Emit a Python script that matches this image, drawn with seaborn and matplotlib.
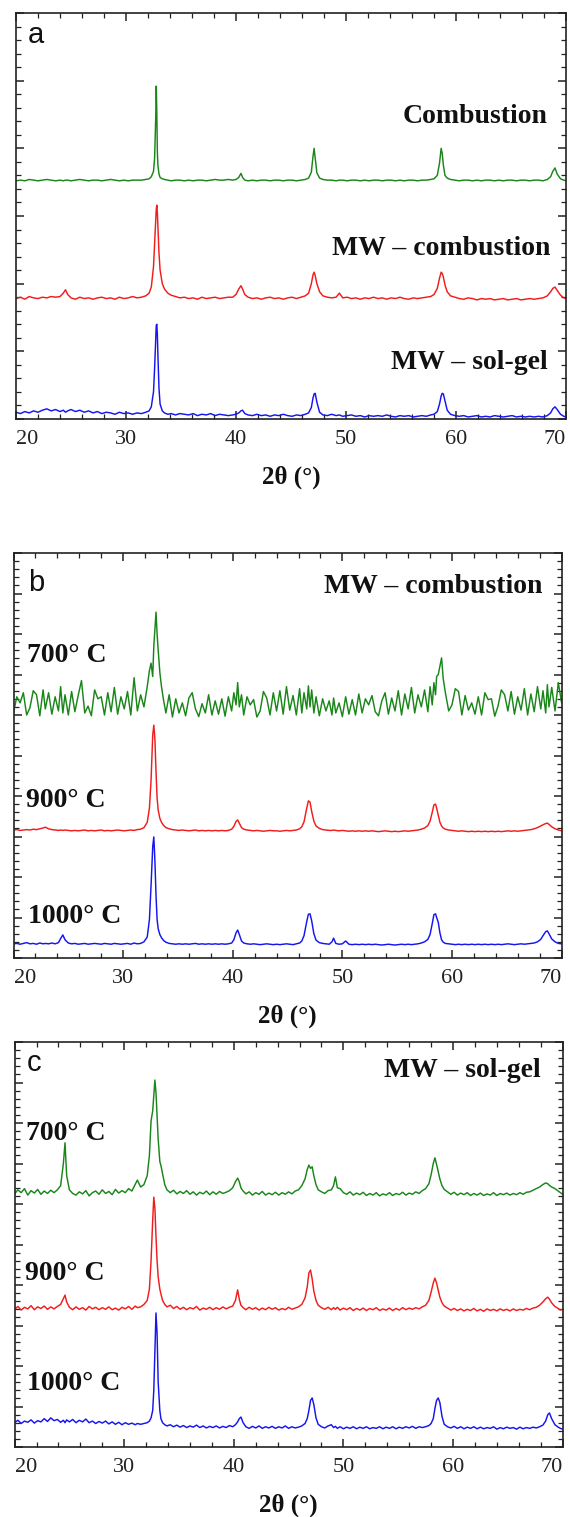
import numpy as np
import pandas as pd
import matplotlib
matplotlib.use('Agg')
import matplotlib.pyplot as plt
from matplotlib.ticker import MultipleLocator
import seaborn as sns

# -----------------------------
# DATA (arbitrary intensity units)
# -----------------------------

x_ticks = [20, 30, 40, 50, 60, 70]
x_tick_labels = ['20', '30', '40', '50', '60', '70']

# panel a : 2theta grid and three patterns
two_theta_a = [
    20.0, 20.4, 20.8, 21.2, 21.6, 22.0, 22.4, 22.8, 23.2, 23.6,
    24.0, 24.3, 24.5, 24.7, 25.0, 25.4, 25.8, 26.2, 26.6, 27.0,
    27.4, 27.8, 28.2, 28.6, 29.0, 29.4, 29.8, 30.2, 30.6, 31.0,
    31.4, 31.8, 32.1, 32.3, 32.5, 32.6, 32.7, 32.75, 32.8, 32.85,
    32.9, 33.0, 33.1, 33.3, 33.5, 33.8, 34.1, 34.5, 34.9, 35.3,
    35.7, 36.1, 36.5, 36.9, 37.3, 37.7, 38.1, 38.5, 38.9, 39.3,
    39.7, 40.0, 40.25, 40.45, 40.6, 40.8, 41.1, 41.5, 41.9, 42.3,
    42.7, 43.1, 43.5, 43.9, 44.3, 44.7, 45.1, 45.5, 45.9, 46.3,
    46.6, 46.85, 47.0, 47.1, 47.2, 47.35, 47.6, 47.9, 48.3, 48.7,
    49.1, 49.4, 49.7, 50.1, 50.5, 50.9, 51.3, 51.7, 52.1, 52.5,
    52.9, 53.3, 53.7, 54.1, 54.5, 54.9, 55.3, 55.7, 56.1, 56.5,
    56.9, 57.3, 57.7, 58.0, 58.3, 58.5, 58.65, 58.75, 58.85, 59.0,
    59.2, 59.5, 59.9, 60.3, 60.7, 61.1, 61.5, 61.9, 62.3, 62.7,
    63.1, 63.5, 63.9, 64.3, 64.7, 65.1, 65.5, 65.9, 66.3, 66.7,
    67.1, 67.5, 67.9, 68.3, 68.6, 68.8, 69.0, 69.2, 69.5, 69.8,
    70.0]

combustion_a = [
    3.52, 3.53, 3.52, 3.54, 3.53, 3.52, 3.53, 3.54, 3.53, 3.52,
    3.53, 3.52, 3.53, 3.53, 3.52, 3.53, 3.54, 3.53, 3.52, 3.53,
    3.53, 3.52, 3.53, 3.54, 3.53, 3.52, 3.53, 3.52, 3.53, 3.53,
    3.53, 3.54, 3.55, 3.58, 3.66, 3.85, 4.45, 4.92, 4.55, 3.95,
    3.75, 3.62, 3.57, 3.55, 3.54, 3.53, 3.52, 3.53, 3.53, 3.52,
    3.53, 3.52, 3.53, 3.53, 3.52, 3.53, 3.54, 3.53, 3.53, 3.54,
    3.53, 3.54, 3.57, 3.63, 3.57, 3.53, 3.52, 3.53, 3.52, 3.53,
    3.53, 3.52, 3.53, 3.53, 3.52, 3.53, 3.53, 3.52, 3.53, 3.54,
    3.56, 3.65, 3.88, 4.00, 3.85, 3.64, 3.56, 3.54, 3.53, 3.53,
    3.52, 3.53, 3.53, 3.52, 3.53, 3.53, 3.52, 3.53, 3.52, 3.53,
    3.53, 3.52, 3.53, 3.53, 3.52, 3.53, 3.52, 3.53, 3.53, 3.52,
    3.53, 3.53, 3.54, 3.55, 3.60, 3.78, 4.00, 3.92, 3.75, 3.60,
    3.56, 3.54, 3.53, 3.52, 3.53, 3.53, 3.52, 3.53, 3.52, 3.53,
    3.53, 3.52, 3.53, 3.52, 3.53, 3.53, 3.52, 3.53, 3.53, 3.52,
    3.53, 3.53, 3.52, 3.54, 3.58, 3.66, 3.71, 3.62, 3.55, 3.53,
    3.52]

mw_combustion_a = [
    1.78, 1.80, 1.77, 1.81, 1.79, 1.78, 1.80, 1.79, 1.81, 1.80,
    1.81, 1.86, 1.91, 1.84, 1.79, 1.77, 1.80, 1.78, 1.79, 1.77,
    1.79, 1.80, 1.78, 1.79, 1.77, 1.80, 1.78, 1.79, 1.81, 1.79,
    1.80, 1.82, 1.86, 1.95, 2.25, 2.60, 2.95, 3.10, 3.16, 3.05,
    2.85, 2.45, 2.20, 2.00, 1.92, 1.86, 1.83, 1.81, 1.79, 1.80,
    1.78, 1.79, 1.77, 1.80, 1.78, 1.79, 1.80, 1.78, 1.79, 1.80,
    1.80, 1.84, 1.92, 1.97, 1.92, 1.84, 1.80, 1.78, 1.79, 1.77,
    1.79, 1.80, 1.78, 1.79, 1.77, 1.79, 1.80, 1.78, 1.80, 1.82,
    1.86, 2.00, 2.13, 2.17, 2.12, 2.00, 1.88, 1.82, 1.80, 1.79,
    1.80, 1.86, 1.79, 1.80, 1.78, 1.79, 1.77, 1.79, 1.78, 1.80,
    1.78, 1.79, 1.77, 1.79, 1.78, 1.80, 1.78, 1.77, 1.79, 1.78,
    1.79, 1.80, 1.81, 1.84, 1.93, 2.08, 2.17, 2.15, 2.10, 1.98,
    1.88, 1.82, 1.80, 1.78, 1.77, 1.79, 1.78, 1.76, 1.78, 1.77,
    1.78, 1.76, 1.77, 1.78, 1.76, 1.77, 1.78, 1.76, 1.77, 1.78,
    1.77, 1.78, 1.79, 1.82, 1.88, 1.93, 1.95, 1.90, 1.83, 1.79,
    1.78]

mw_solgel_a = [
    0.10, 0.08, 0.11, 0.09, 0.12, 0.10, 0.13, 0.15, 0.12, 0.14,
    0.11, 0.13, 0.10, 0.12, 0.14, 0.11, 0.13, 0.10, 0.12, 0.09,
    0.11, 0.08, 0.10, 0.09, 0.07, 0.10, 0.08, 0.09, 0.07, 0.09,
    0.08, 0.10, 0.12, 0.18, 0.40, 0.75, 1.20, 1.38, 1.40, 1.25,
    0.95, 0.45, 0.22, 0.12, 0.09, 0.07, 0.08, 0.06, 0.08, 0.07,
    0.06, 0.08, 0.05, 0.07, 0.06, 0.08, 0.05, 0.07, 0.06, 0.05,
    0.06, 0.07, 0.09, 0.12, 0.13, 0.08, 0.06, 0.05, 0.07, 0.05,
    0.06, 0.04, 0.06, 0.05, 0.07, 0.05, 0.04, 0.06, 0.05, 0.07,
    0.09, 0.17, 0.31, 0.37, 0.38, 0.25, 0.10, 0.06, 0.05, 0.07,
    0.05, 0.06, 0.04, 0.05, 0.06, 0.04, 0.05, 0.03, 0.05, 0.04,
    0.05, 0.04, 0.06, 0.04, 0.03, 0.05, 0.04, 0.05, 0.03, 0.04,
    0.05, 0.04, 0.06, 0.07, 0.11, 0.22, 0.34, 0.38, 0.37, 0.27,
    0.13, 0.07, 0.05, 0.04, 0.05, 0.03, 0.04, 0.05, 0.03, 0.04,
    0.03, 0.05, 0.04, 0.03, 0.04, 0.05, 0.03, 0.04, 0.03, 0.04,
    0.03, 0.04, 0.03, 0.05, 0.09, 0.15, 0.18, 0.14, 0.07, 0.04,
    0.03]

# panel b : MW - combustion at three temperatures
two_theta_b = [
    20.0, 20.3, 20.6, 20.9, 21.2, 21.5, 21.8, 22.1, 22.4, 22.7,
    22.9, 23.2, 23.5, 23.8, 24.1, 24.3, 24.5, 24.7, 25.0, 25.3,
    25.6, 25.9, 26.2, 26.5, 26.8, 27.1, 27.4, 27.7, 28.0, 28.3,
    28.6, 28.9, 29.2, 29.5, 29.8, 30.1, 30.4, 30.7, 31.0, 31.3,
    31.6, 31.9, 32.2, 32.4, 32.55, 32.7, 32.8, 32.9, 33.0, 33.1,
    33.2, 33.35, 33.5, 33.7, 33.9, 34.2, 34.5, 34.8, 35.1, 35.4,
    35.7, 36.0, 36.3, 36.6, 36.9, 37.2, 37.5, 37.8, 38.1, 38.4,
    38.7, 39.0, 39.3, 39.6, 39.9, 40.1, 40.3, 40.45, 40.6, 40.8,
    41.0, 41.3, 41.6, 41.9, 42.2, 42.5, 42.8, 43.1, 43.4, 43.7,
    44.0, 44.3, 44.6, 44.9, 45.2, 45.5, 45.8, 46.1, 46.3, 46.5,
    46.75, 46.9, 47.05, 47.2, 47.4, 47.6, 47.9, 48.2, 48.5, 48.8,
    49.05, 49.2, 49.4, 49.7, 50.0, 50.3, 50.6, 50.9, 51.2, 51.5,
    51.8, 52.1, 52.4, 52.7, 53.0, 53.3, 53.6, 53.9, 54.2, 54.5,
    54.8, 55.1, 55.4, 55.7, 56.0, 56.3, 56.6, 56.9, 57.2, 57.5,
    57.8, 58.0, 58.2, 58.35, 58.5, 58.6, 58.75, 58.9, 59.05, 59.2,
    59.4, 59.7, 60.0, 60.3, 60.6, 60.9, 61.2, 61.5, 61.8, 62.1,
    62.4, 62.7, 63.0, 63.3, 63.6, 63.9, 64.2, 64.5, 64.8, 65.1,
    65.4, 65.7, 66.0, 66.3, 66.6, 66.9, 67.2, 67.5, 67.8, 68.1,
    68.3, 68.55, 68.7, 68.85, 69.1, 69.4, 69.7, 70.0]

comb_700 = [
    6.05, 6.45, 6.30, 6.55, 6.00, 6.18, 6.60, 6.50, 5.98, 6.62,
    6.15, 6.55, 6.02, 6.45, 6.10, 6.70, 6.05, 6.50, 6.00, 6.58,
    6.08, 6.48, 6.85, 6.05, 6.22, 5.98, 6.62, 6.40, 6.45, 6.00,
    6.55, 6.08, 6.68, 6.02, 6.45, 6.15, 6.58, 6.00, 6.92, 6.10,
    6.50, 6.20, 6.70, 7.10, 7.28, 6.95, 7.70, 8.10, 8.54, 8.00,
    7.60, 7.05, 6.70, 6.35, 6.05, 6.50, 5.95, 6.40, 6.05, 6.30,
    5.98, 6.42, 6.55, 6.15, 5.96, 6.28, 6.05, 6.50, 6.00, 6.35,
    6.02, 6.40, 5.97, 6.45, 6.10, 6.55, 6.25, 6.80, 6.20, 6.50,
    6.00, 6.45, 6.25, 6.38, 5.95, 6.10, 6.58, 6.42, 6.00, 6.55,
    6.10, 6.60, 6.02, 6.70, 6.12, 6.48, 6.00, 6.65, 6.05, 6.55,
    6.15, 6.72, 6.20, 6.62, 6.05, 6.45, 5.98, 6.40, 6.10, 6.35,
    6.00, 6.42, 6.05, 6.30, 5.96, 6.45, 6.02, 6.38, 6.00, 6.52,
    6.05, 6.40, 6.25, 6.48, 6.08, 5.98, 6.35, 6.55, 6.02, 6.42,
    6.10, 6.60, 6.00, 6.52, 6.15, 6.68, 6.05, 6.50, 6.20, 6.62,
    6.08, 6.70, 6.25, 6.80, 6.50, 6.95, 7.00, 7.20, 7.41, 6.90,
    6.55, 6.10, 6.25, 6.65, 6.58, 6.00, 6.48, 6.12, 6.30, 6.02,
    6.45, 6.00, 6.55, 6.38, 6.40, 5.97, 6.22, 6.62, 6.50, 6.10,
    6.58, 6.02, 6.45, 6.12, 6.65, 6.00, 6.52, 6.08, 6.70, 6.15,
    6.60, 6.05, 6.75, 6.20, 6.68, 6.10, 6.80, 6.30]

comb_900 = [
    3.16, 3.17, 3.15, 3.16, 3.17, 3.16, 3.18, 3.17, 3.19, 3.21,
    3.23, 3.19, 3.17, 3.16, 3.15, 3.16, 3.15, 3.16, 3.15, 3.14,
    3.15, 3.14, 3.15, 3.16, 3.14, 3.15, 3.14, 3.15, 3.16, 3.14,
    3.15, 3.14, 3.15, 3.16, 3.15, 3.14, 3.15, 3.16, 3.15, 3.17,
    3.18, 3.22, 3.35, 3.70, 4.40, 5.50, 5.75, 5.40, 4.60, 3.95,
    3.65, 3.45, 3.35, 3.27, 3.22, 3.19, 3.17, 3.16, 3.15, 3.16,
    3.15, 3.14, 3.15, 3.16, 3.14, 3.15, 3.14, 3.15, 3.14, 3.15,
    3.14, 3.15, 3.14, 3.15, 3.18, 3.25, 3.37, 3.41, 3.33, 3.22,
    3.18, 3.16, 3.15, 3.14, 3.15, 3.14, 3.13, 3.14, 3.15, 3.14,
    3.14, 3.13, 3.14, 3.15, 3.14, 3.15, 3.16, 3.19, 3.24, 3.36,
    3.70, 3.88, 3.85, 3.62, 3.38, 3.26, 3.20, 3.17, 3.16, 3.15,
    3.15, 3.16, 3.15, 3.14, 3.15, 3.14, 3.13, 3.14, 3.13, 3.14,
    3.13, 3.14, 3.13, 3.14, 3.13, 3.12, 3.13, 3.14, 3.13, 3.12,
    3.13, 3.12, 3.13, 3.14, 3.13, 3.14, 3.15, 3.16, 3.18, 3.21,
    3.27, 3.38, 3.60, 3.78, 3.80, 3.70, 3.52, 3.35, 3.26, 3.21,
    3.18, 3.16, 3.15, 3.14, 3.13, 3.14, 3.13, 3.12, 3.13, 3.12,
    3.13, 3.12, 3.13, 3.12, 3.13, 3.12, 3.13, 3.12, 3.13, 3.14,
    3.13, 3.14, 3.13, 3.14, 3.15, 3.16, 3.17, 3.19, 3.22, 3.26,
    3.29, 3.32, 3.33, 3.30, 3.24, 3.19, 3.16, 3.14]

comb_1000 = [
    0.35, 0.36, 0.34, 0.36, 0.38, 0.35, 0.36, 0.34, 0.37, 0.35,
    0.36, 0.35, 0.37, 0.35, 0.38, 0.48, 0.57, 0.45, 0.37, 0.35,
    0.36, 0.34, 0.35, 0.36, 0.34, 0.35, 0.36, 0.35, 0.34, 0.36,
    0.35, 0.34, 0.36, 0.35, 0.34, 0.35, 0.36, 0.34, 0.37, 0.35,
    0.36, 0.40, 0.52, 0.95, 1.80, 2.75, 2.99, 2.40, 1.55, 0.95,
    0.72, 0.58, 0.50, 0.43, 0.39, 0.36, 0.35, 0.34, 0.35, 0.34,
    0.35, 0.34, 0.35, 0.36, 0.34, 0.35, 0.34, 0.35, 0.34, 0.35,
    0.34, 0.35, 0.34, 0.35, 0.37, 0.45, 0.62, 0.69, 0.58, 0.42,
    0.37, 0.35, 0.34, 0.35, 0.34, 0.33, 0.34, 0.35, 0.34, 0.33,
    0.34, 0.33, 0.34, 0.35, 0.34, 0.33, 0.35, 0.37, 0.42, 0.55,
    0.90, 1.08, 1.09, 0.92, 0.60, 0.44, 0.38, 0.36, 0.35, 0.34,
    0.40, 0.49, 0.36, 0.34, 0.35, 0.42, 0.34, 0.33, 0.34, 0.33,
    0.34, 0.33, 0.34, 0.33, 0.34, 0.33, 0.32, 0.33, 0.34, 0.33,
    0.32, 0.33, 0.34, 0.33, 0.34, 0.33, 0.34, 0.35, 0.37, 0.40,
    0.46, 0.58, 0.85, 1.07, 1.09, 1.00, 0.88, 0.62, 0.45, 0.39,
    0.36, 0.35, 0.34, 0.33, 0.34, 0.33, 0.34, 0.33, 0.34, 0.33,
    0.34, 0.33, 0.34, 0.33, 0.34, 0.33, 0.34, 0.33, 0.34, 0.35,
    0.34, 0.33, 0.34, 0.35, 0.34, 0.35, 0.36, 0.37, 0.40, 0.46,
    0.55, 0.65, 0.67, 0.60, 0.47, 0.40, 0.36, 0.35]

# panel c : MW - sol-gel at three temperatures
two_theta_c = [
    20.0, 20.3, 20.6, 20.9, 21.2, 21.5, 21.8, 22.1, 22.4, 22.7,
    23.0, 23.3, 23.6, 23.9, 24.2, 24.45, 24.6, 24.75, 25.0, 25.3,
    25.6, 25.9, 26.2, 26.5, 26.8, 27.1, 27.4, 27.7, 28.0, 28.3,
    28.6, 28.9, 29.2, 29.5, 29.8, 30.1, 30.4, 30.7, 31.0, 31.2,
    31.5, 31.8, 32.1, 32.3, 32.45, 32.6, 32.7, 32.8, 32.9, 33.0,
    33.1, 33.25, 33.35, 33.5, 33.7, 33.9, 34.2, 34.5, 34.8, 35.1,
    35.4, 35.7, 36.0, 36.3, 36.6, 36.9, 37.2, 37.5, 37.8, 38.1,
    38.4, 38.7, 39.0, 39.3, 39.6, 39.9, 40.15, 40.35, 40.5, 40.65,
    40.85, 41.1, 41.4, 41.7, 42.0, 42.3, 42.6, 42.9, 43.2, 43.5,
    43.8, 44.1, 44.4, 44.7, 45.0, 45.3, 45.6, 45.9, 46.2, 46.5,
    46.7, 46.85, 47.0, 47.15, 47.3, 47.5, 47.7, 48.0, 48.3, 48.6,
    48.9, 49.1, 49.27, 49.45, 49.7, 50.0, 50.3, 50.6, 50.9, 51.2,
    51.5, 51.8, 52.1, 52.4, 52.7, 53.0, 53.3, 53.6, 53.9, 54.2,
    54.5, 54.8, 55.1, 55.4, 55.7, 56.0, 56.3, 56.6, 56.9, 57.2,
    57.5, 57.8, 58.0, 58.2, 58.35, 58.5, 58.65, 58.8, 59.0, 59.2,
    59.5, 59.8, 60.1, 60.4, 60.7, 61.0, 61.3, 61.6, 61.9, 62.2,
    62.5, 62.8, 63.1, 63.4, 63.7, 64.0, 64.3, 64.6, 64.9, 65.2,
    65.5, 65.8, 66.1, 66.4, 66.7, 67.0, 67.3, 67.6, 67.9, 68.2,
    68.45, 68.65, 68.8, 69.0, 69.3, 69.6, 69.8, 70.0]

solgel_700 = [
    6.25, 6.35, 6.28, 6.38, 6.22, 6.33, 6.27, 6.36, 6.24, 6.32,
    6.26, 6.34, 6.28, 6.35, 6.45, 7.00, 7.51, 6.70, 6.35, 6.26,
    6.22, 6.30, 6.25, 6.33, 6.20, 6.28, 6.32, 6.24, 6.35, 6.26,
    6.31, 6.23, 6.36, 6.27, 6.33, 6.28, 6.38, 6.32, 6.48, 6.59,
    6.42, 6.48, 6.70, 7.20, 8.05, 8.30, 8.70, 9.06, 8.75, 8.20,
    7.60, 7.05, 6.95, 6.75, 6.48, 6.35, 6.28, 6.34, 6.25, 6.31,
    6.26, 6.33, 6.24, 6.30, 6.22, 6.29, 6.25, 6.32, 6.23, 6.30,
    6.24, 6.31, 6.26, 6.29, 6.33, 6.40, 6.55, 6.64, 6.55, 6.40,
    6.32, 6.25, 6.30, 6.22, 6.28, 6.24, 6.31, 6.22, 6.27, 6.23,
    6.29, 6.22, 6.28, 6.24, 6.30, 6.25, 6.32, 6.35, 6.45, 6.62,
    6.85, 6.96, 6.88, 6.92, 6.70, 6.48, 6.35, 6.30, 6.26, 6.33,
    6.35, 6.45, 6.67, 6.40, 6.38, 6.28, 6.24, 6.30, 6.22, 6.27,
    6.23, 6.29, 6.21, 6.26, 6.22, 6.28, 6.20, 6.25, 6.22, 6.28,
    6.21, 6.26, 6.23, 6.29, 6.22, 6.27, 6.24, 6.30, 6.26, 6.33,
    6.38, 6.50, 6.72, 7.00, 7.14, 6.98, 6.80, 6.62, 6.45, 6.36,
    6.30, 6.24, 6.29, 6.22, 6.27, 6.23, 6.28, 6.21, 6.26, 6.22,
    6.27, 6.21, 6.25, 6.22, 6.28, 6.21, 6.26, 6.23, 6.27, 6.22,
    6.26, 6.23, 6.28, 6.24, 6.29, 6.30, 6.34, 6.38, 6.42, 6.48,
    6.52, 6.50, 6.46, 6.42, 6.38, 6.32, 6.28, 6.24]

solgel_900 = [
    3.40, 3.47, 3.38, 3.45, 3.41, 3.49, 3.39, 3.46, 3.42, 3.48,
    3.40, 3.46, 3.41, 3.47, 3.52, 3.66, 3.75, 3.58, 3.45, 3.39,
    3.46, 3.40, 3.44, 3.38, 3.47, 3.41, 3.45, 3.39, 3.44, 3.40,
    3.46, 3.39, 3.43, 3.38, 3.45, 3.41, 3.47, 3.40, 3.48, 3.44,
    3.46, 3.52, 3.62, 3.90, 4.60, 5.60, 6.17, 5.90, 5.20, 4.60,
    4.20, 3.90, 3.78, 3.62, 3.52, 3.46, 3.50, 3.42, 3.47, 3.40,
    3.45, 3.39, 3.44, 3.41, 3.47, 3.38, 3.43, 3.40, 3.45, 3.39,
    3.44, 3.40, 3.46, 3.41, 3.45, 3.48, 3.62, 3.88, 3.65, 3.50,
    3.44, 3.39, 3.45, 3.40, 3.44, 3.38, 3.43, 3.39, 3.45, 3.40,
    3.44, 3.38, 3.42, 3.39, 3.45, 3.40, 3.43, 3.46, 3.52, 3.68,
    3.95, 4.30, 4.37, 4.15, 3.85, 3.62, 3.50, 3.44, 3.40, 3.45,
    3.39, 3.44, 3.40, 3.45, 3.38, 3.43, 3.39, 3.44, 3.37, 3.42,
    3.38, 3.43, 3.37, 3.42, 3.39, 3.44, 3.37, 3.41, 3.38, 3.43,
    3.37, 3.42, 3.38, 3.44, 3.39, 3.43, 3.40, 3.44, 3.41, 3.46,
    3.50, 3.62, 3.82, 4.05, 4.17, 4.05, 3.88, 3.70, 3.56, 3.48,
    3.43, 3.38, 3.42, 3.37, 3.41, 3.36, 3.40, 3.37, 3.42, 3.36,
    3.40, 3.35, 3.41, 3.37, 3.40, 3.36, 3.41, 3.37, 3.40, 3.36,
    3.41, 3.37, 3.40, 3.38, 3.42, 3.39, 3.43, 3.45, 3.50, 3.58,
    3.66, 3.70, 3.65, 3.56, 3.47, 3.42, 3.38, 3.40]

solgel_1000 = [
    0.60, 0.66, 0.58, 0.64, 0.61, 0.67, 0.59, 0.65, 0.62, 0.70,
    0.63, 0.72, 0.65, 0.68, 0.61, 0.66, 0.60, 0.67, 0.62, 0.68,
    0.60, 0.66, 0.62, 0.69, 0.60, 0.64, 0.58, 0.63, 0.59, 0.64,
    0.57, 0.62, 0.56, 0.61, 0.55, 0.60, 0.56, 0.59, 0.55, 0.58,
    0.56, 0.58, 0.60, 0.64, 0.72, 0.90, 1.40, 2.40, 3.31, 2.80,
    1.60, 0.90, 0.70, 0.60, 0.55, 0.52, 0.55, 0.50, 0.54, 0.49,
    0.53, 0.48, 0.52, 0.49, 0.54, 0.48, 0.52, 0.47, 0.51, 0.48,
    0.52, 0.47, 0.51, 0.48, 0.53, 0.50, 0.55, 0.62, 0.70, 0.74,
    0.60, 0.50, 0.46, 0.51, 0.47, 0.52, 0.46, 0.50, 0.47, 0.51,
    0.46, 0.50, 0.47, 0.52, 0.46, 0.50, 0.47, 0.49, 0.52, 0.58,
    0.70, 0.90, 1.15, 1.21, 1.05, 0.72, 0.56, 0.50, 0.47, 0.52,
    0.55, 0.48, 0.51, 0.46, 0.50, 0.45, 0.49, 0.46, 0.50, 0.45,
    0.49, 0.46, 0.50, 0.45, 0.48, 0.46, 0.50, 0.45, 0.49, 0.46,
    0.50, 0.45, 0.49, 0.46, 0.50, 0.47, 0.51, 0.46, 0.50, 0.48,
    0.50, 0.53, 0.58, 0.70, 0.95, 1.15, 1.21, 1.10, 0.75, 0.56,
    0.50, 0.47, 0.51, 0.46, 0.50, 0.45, 0.49, 0.46, 0.50, 0.45,
    0.49, 0.45, 0.48, 0.46, 0.50, 0.44, 0.48, 0.45, 0.49, 0.46,
    0.48, 0.44, 0.49, 0.45, 0.48, 0.46, 0.49, 0.47, 0.50, 0.54,
    0.64, 0.80, 0.84, 0.70, 0.55, 0.49, 0.46, 0.44]

GREEN = '#1a861a'
RED = '#f21c1c'
BLUE = '#1515f0'

# -----------------------------
# FIGURE SETUP
# -----------------------------

sns.set_style('ticks')
plt.rcParams['font.family'] = ['Liberation Serif', 'DejaVu Serif']

W, H = 570, 1517
fig = plt.figure(figsize=(W / 100, H / 100), dpi=100)


def px_axes(left, top, right, bottom):
    # axes rectangle given in pixel coordinates of the reference
    return fig.add_axes([left / W, 1 - bottom / H, (right - left) / W, (bottom - top) / H])


def px_text(x, y, s, ha='left', family='Liberation Serif', size=20, weight='bold'):
    fig.text(x / W, 1 - y / H, s, ha=ha, va='baseline',
             family=family, fontsize=size, weight=weight, color='#111111')


def draw_panel(ax, x, series, ymax, ymin_step):
    frames = []
    for name, values in series:
        assert len(values) == len(x), (name, len(values), len(x))
        frames.append(pd.DataFrame({'two_theta': x, 'intensity': values, 'sample': name}))
    df = pd.concat(frames, ignore_index=True)
    palette = {name: color for (name, _), color in zip(series, [GREEN, RED, BLUE])}
    sns.lineplot(data=df, x='two_theta', y='intensity', hue='sample',
                 palette=palette, estimator=None, legend=False,
                 linewidth=1.05, ax=ax)
    ax.set_xlim(20, 70)
    ax.set_ylim(0, ymax)
    ax.set_xticks(x_ticks)
    ax.set_xticklabels(x_tick_labels)
    ticklabels = ax.get_xticklabels()
    ticklabels[0].set_horizontalalignment('left')
    ticklabels[-1].set_horizontalalignment('right')
    ax.xaxis.set_minor_locator(MultipleLocator(2))
    ax.yaxis.set_major_locator(MultipleLocator(1))
    ax.yaxis.set_minor_locator(MultipleLocator(ymin_step))
    ax.tick_params(which='both', direction='in', top=True, right=True,
                   labelleft=False, colors='#222222')
    ax.tick_params(which='major', length=6, width=1.1, pad=8, labelsize=16)
    ax.tick_params(which='minor', length=3.5, width=0.9)
    for spine in ax.spines.values():
        spine.set_linewidth(1.2)
        spine.set_color('#222222')
    ax.set_ylabel('')
    ax.set_xlabel('2θ (°)', fontsize=18, weight='bold', labelpad=12, color='#111111')


# -----------------------------
# PANEL A
# -----------------------------

ax_a = px_axes(16, 13, 566, 419)
draw_panel(ax_a, two_theta_a,
           [('Combustion', combustion_a),
            ('MW - combustion', mw_combustion_a),
            ('MW - sol-gel', mw_solgel_a)], 6, 0.2)

px_text(28, 43, 'a', family='Liberation Sans', size=21, weight='normal')
px_text(548, 123, 'Combustion', ha='right')
px_text(550, 255, 'MW – combustion', ha='right')
px_text(548, 369, 'MW – sol-gel', ha='right')

# -----------------------------
# PANEL B
# -----------------------------

ax_b = px_axes(13.5, 553, 561.6, 958)
draw_panel(ax_b, two_theta_b,
           [('700', comb_700), ('900', comb_900), ('1000', comb_1000)], 10, 0.2)

px_text(28, 591, 'b', family='Liberation Sans', size=21, weight='normal')
px_text(542, 593, 'MW – combustion', ha='right')
px_text(27, 662, '700° C')
px_text(26, 807, '900° C')
px_text(28, 923, '1000° C')

# -----------------------------
# PANEL C
# -----------------------------

ax_c = px_axes(14.6, 1042, 562.6, 1447)
draw_panel(ax_c, two_theta_c,
           [('700', solgel_700), ('900', solgel_900), ('1000', solgel_1000)], 10, 0.2)

px_text(27, 1071, 'c', family='Liberation Sans', size=21, weight='normal')
px_text(541, 1077, 'MW – sol-gel', ha='right')
px_text(26, 1140, '700° C')
px_text(25, 1280, '900° C')
px_text(27, 1390, '1000° C')

fig.savefig('out.png', dpi=100)
